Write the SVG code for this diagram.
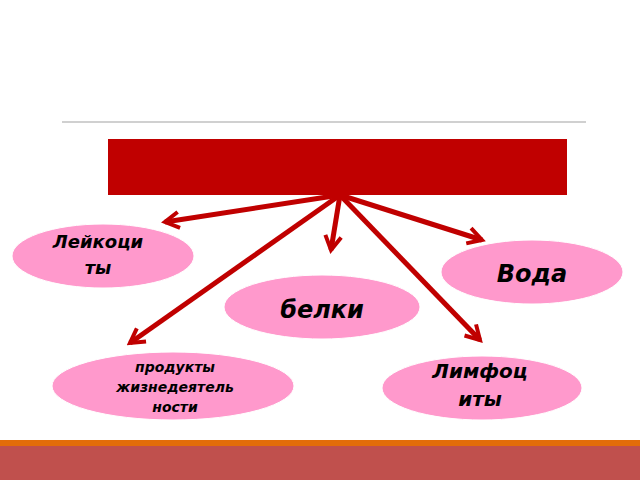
<svg xmlns="http://www.w3.org/2000/svg" width="640" height="480" viewBox="0 0 640 480">
<defs>
<marker id="ah" viewBox="0 0 10 10" refX="8" refY="5" markerWidth="4" markerHeight="4" orient="auto" markerUnits="strokeWidth"><path d="M1,1 L8,5 L1,9" fill="none" stroke="#c00000" stroke-width="2"/></marker>
<style>
.n{fill:#ff99cc;stroke:#ffffff;stroke-width:1}
.t{font-family:"DejaVu Sans",sans-serif;font-weight:bold;font-style:italic;fill:#000;text-anchor:middle}
.c{stroke:#c00000;stroke-width:5;fill:none;marker-end:url(#ah)}
</style>
</defs>
<rect width="640" height="480" fill="#fff"/>
<line x1="62" y1="122" x2="586" y2="122" stroke="#d0d0d0" stroke-width="2"/>
<rect x="108" y="139" width="459" height="56" fill="#c00000"/>
<rect x="0" y="440" width="640" height="6" fill="#e36c0a"/>
<rect x="0" y="446" width="640" height="34" fill="#c0504d"/>
<g id="connectors">
<path class="c" d="M340,195 L165,222"/>
<path class="c" d="M340,195 L331,250"/>
<path class="c" d="M340,195 L482,240"/>
<path class="c" d="M340,195 L130,343"/>
<path class="c" d="M340,195 L480,340"/>
</g>
<g id="n1"><ellipse class="n" cx="103" cy="256" rx="91" ry="32"/><text class="t" x="98" y="248" font-size="18">Лейкоци</text><text class="t" x="98" y="274" font-size="18">ты</text></g>
<g id="n2"><ellipse class="n" cx="532" cy="272" rx="91" ry="32"/><text class="t" x="532" y="282" font-size="24">Вода</text></g>
<g id="n3"><ellipse class="n" cx="322" cy="307" rx="98" ry="32"/><text class="t" x="322" y="318" font-size="24">белки</text></g>
<g id="n4"><ellipse class="n" cx="173" cy="386" rx="121" ry="34"/><text class="t" x="175" y="372" font-size="14" font-style="normal">продукты</text><text class="t" x="175" y="392" font-size="14" font-style="normal">жизнедеятель</text><text class="t" x="175" y="412" font-size="14" font-style="normal">ности</text></g>
<g id="n5"><ellipse class="n" cx="482" cy="388" rx="100" ry="32"/><text class="t" x="480" y="378" font-size="20" font-style="normal">Лимфоц</text><text class="t" x="480" y="406" font-size="20" font-style="normal">иты</text></g>
</svg>
